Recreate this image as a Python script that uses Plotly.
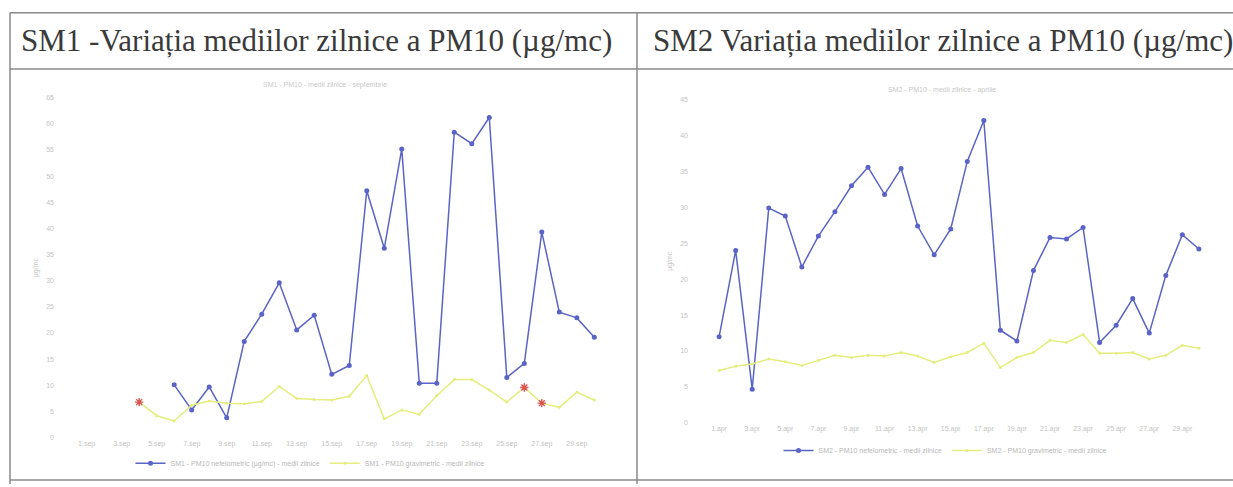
import plotly.graph_objects as go

W, H = 1233, 487

# SM1 - September days (every other label shown)
sm1_days = [f"{d}.sep" for d in range(1, 31)]
sm1_pm10 = [None, None, None, None, None, 10.1, 5.3, 9.7, 3.8, 18.4,
            23.6, 29.6, 20.6, 23.4, 12.1, 13.8, 47.2, 36.2, 55.2, 10.4,
            10.4, 58.4, 56.2, 61.2, 11.5, 14.2, 39.3, 24.0, 22.9, 19.2]
sm1_ref = [None, None, None, 6.8, 4.2, 3.2, 6.2, 7.0, 6.6, 6.5,
           6.9, 9.8, 7.5, 7.3, 7.2, 7.9, 11.9, 3.6, 5.3, 4.5,
           8.0, 11.1, 11.1, 9.1, 6.8, 9.6, 6.6, 5.8, 8.7, 7.2]
sm1_flagged = [3, 25, 26]

# SM2 - April days
sm2_days = [f"{d}.apr" for d in range(1, 31)]
sm2_pm10 = [12.0, 24.0, 4.7, 29.9, 28.8, 21.7, 26.0, 29.4, 33.0, 35.6,
            31.8, 35.4, 27.4, 23.4, 27.0, 36.4, 42.1, 12.9, 11.4, 21.2,
            25.8, 25.6, 27.2, 11.2, 13.6, 17.3, 12.5, 20.5, 26.2, 24.2]
sm2_ref = [7.3, 7.9, 8.2, 8.9, 8.5, 8.0, 8.7, 9.4, 9.1, 9.4,
           9.3, 9.8, 9.3, 8.4, 9.2, 9.8, 11.1, 7.7, 9.1, 9.8,
           11.5, 11.2, 12.3, 9.7, 9.7, 9.8, 8.9, 9.4, 10.8, 10.4]

BLUE = "#5a63c6"
YELLOW = "#e4ee7e"
TICK = dict(family="Arial", size=7, color="#c4c4c4")


def px_x(v):
    return v / W


def px_y(v):
    return 1 - v / H


fig = go.Figure()

fig.add_trace(go.Scatter(
    x=sm1_days, y=sm1_pm10, mode="lines+markers", name="SM1 - PM10 nefelometric (µg/mc) - medii zilnice",
    line=dict(color=BLUE, width=1.5), marker=dict(size=5, color=BLUE),
    xaxis="x", yaxis="y", legend="legend",
))
fig.add_trace(go.Scatter(
    x=sm1_days, y=sm1_ref, mode="lines+markers", name="SM1 - PM10 gravimetric - medii zilnice",
    line=dict(color=YELLOW, width=1.5), marker=dict(size=3, color=YELLOW),
    xaxis="x", yaxis="y", legend="legend",
))
fig.add_trace(go.Scatter(
    x=[sm1_days[i] for i in sm1_flagged], y=[sm1_ref[i] for i in sm1_flagged],
    mode="markers", showlegend=False,
    marker=dict(symbol="asterisk", size=7, line=dict(color="#d9534f", width=1.4)),
    xaxis="x", yaxis="y",
))
fig.add_trace(go.Scatter(
    x=sm2_days, y=sm2_pm10, mode="lines+markers", name="SM2 - PM10 nefelometric - medii zilnice",
    line=dict(color=BLUE, width=1.5), marker=dict(size=5, color=BLUE),
    xaxis="x2", yaxis="y2", legend="legend2",
))
fig.add_trace(go.Scatter(
    x=sm2_days, y=sm2_ref, mode="lines+markers", name="SM2 - PM10 gravimetric - medii zilnice",
    line=dict(color=YELLOW, width=1.5), marker=dict(size=3, color=YELLOW),
    xaxis="x2", yaxis="y2", legend="legend2",
))

axis_common = dict(showgrid=False, zeroline=False, showline=False, ticks="", tickfont=TICK)

fig.update_layout(
    width=W, height=H,
    margin=dict(l=0, r=0, t=0, b=0),
    paper_bgcolor="white", plot_bgcolor="white",
    xaxis=dict(domain=[px_x(55), px_x(626)], anchor="y", tickmode="array",
               tickvals=sm1_days[::2], **axis_common),
    yaxis=dict(domain=[px_y(440), px_y(95)], anchor="x", range=[0, 65], dtick=5,
               title=dict(text="µg/mc", font=TICK, standoff=6), **axis_common),
    xaxis2=dict(domain=[px_x(689), px_x(1229)], anchor="y2", tickmode="array",
                tickvals=sm2_days[::2], **axis_common),
    yaxis2=dict(domain=[px_y(425), px_y(97)], anchor="x2", range=[0, 45], dtick=5,
                title=dict(text="µg/mc", font=TICK, standoff=6), **axis_common),
    legend=dict(orientation="h", x=px_x(310), xanchor="center", y=px_y(466), yanchor="middle",
                font=dict(family="Arial", size=7, color="#b8b8b8"), bgcolor="rgba(0,0,0,0)"),
    legend2=dict(orientation="h", x=px_x(945), xanchor="center", y=px_y(453), yanchor="middle",
                 font=dict(family="Arial", size=7, color="#b8b8b8"), bgcolor="rgba(0,0,0,0)"),
)

title_font = dict(family="Times New Roman", size=31, color="#3a3a3a")
fig.add_annotation(text="SM1 -Variația mediilor zilnice a PM10 (µg/mc)", x=px_x(316), y=px_y(37),
                   xref="paper", yref="paper", xanchor="center", yanchor="middle",
                   showarrow=False, font=title_font)
fig.add_annotation(text="SM2 Variația mediilor zilnice a PM10 (µg/mc)", x=px_x(943), y=px_y(37),
                   xref="paper", yref="paper", xanchor="center", yanchor="middle",
                   showarrow=False, font=title_font)

small = dict(family="Arial", size=7, color="#c8c8c8")
fig.add_annotation(text="SM1 - PM10 - medii zilnice - septembrie", x=px_x(325), y=px_y(82),
                   xref="paper", yref="paper", xanchor="center", yanchor="middle",
                   showarrow=False, font=small)
fig.add_annotation(text="SM2 - PM10 - medii zilnice - aprilie", x=px_x(942), y=px_y(87),
                   xref="paper", yref="paper", xanchor="center", yanchor="middle",
                   showarrow=False, font=small)

# table borders of the scanned page
border = dict(color="#8a8a8a", width=1.5)
for x0, y0, x1, y1 in [(10, 9, 1233, 9), (10, 66, 1233, 66), (10, 483, 1233, 483),
                       (10, 9, 10, 487), (637, 9, 637, 487)]:
    fig.add_shape(type="line", xref="paper", yref="paper",
                  x0=px_x(x0), y0=px_y(y0), x1=px_x(x1), y1=px_y(y1), line=border)

fig.write_html("out.html", config={"displayModeBar": False},
               post_script="document.body.style.margin = '0';")
